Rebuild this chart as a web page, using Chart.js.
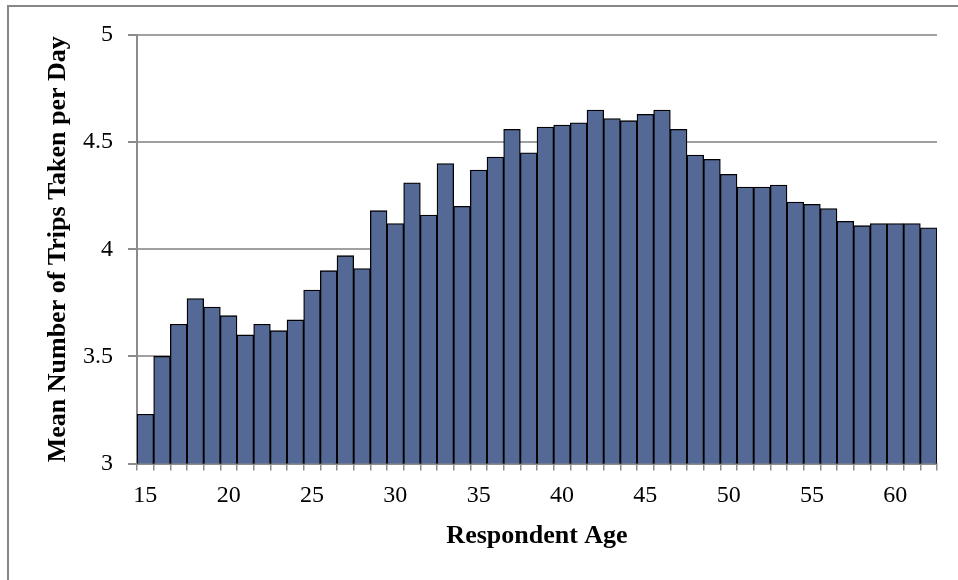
<!DOCTYPE html>
<html>
<head>
<meta charset="utf-8">
<script src="https://cdn.jsdelivr.net/npm/chart.js@4.4.1/dist/chart.umd.min.js"></script>
<style>
  html, body { margin: 0; padding: 0; background: #fff; }
  #wrap { width: 958px; height: 580px; }
</style>
</head>
<body>
<div id="wrap"><canvas id="chart" width="958" height="580"></canvas></div>
<script>
// Respondent ages (categories)
const ages = [15, 16, 17, 18, 19, 20, 21, 22, 23, 24, 25, 26, 27, 28, 29, 30,
  31, 32, 33, 34, 35, 36, 37, 38, 39, 40, 41, 42, 43, 44, 45, 46,
  47, 48, 49, 50, 51, 52, 53, 54, 55, 56, 57, 58, 59, 60, 61, 62];

// Mean number of trips per day
const meanTrips = [3.23, 3.50, 3.65, 3.77, 3.73, 3.69, 3.60, 3.65, 3.62, 3.67, 3.81, 3.90, 3.97, 3.91, 4.18, 4.12,
  4.31, 4.16, 4.40, 4.20, 4.37, 4.43, 4.56, 4.45, 4.57, 4.58, 4.59, 4.65, 4.61, 4.60, 4.63, 4.65,
  4.56, 4.44, 4.42, 4.35, 4.29, 4.29, 4.30, 4.22, 4.21, 4.19, 4.13, 4.11, 4.12, 4.12, 4.12, 4.10];

// Ages that carry a label on the x axis
const labelledAges = [15, 20, 25, 30, 35, 40, 45, 50, 55, 60];

const serif = '"Liberation Serif", "Times New Roman", serif';

// outer gray frame like the spreadsheet chart box
const framePlugin = {
  id: 'frame',
  beforeDraw(chart) {
    const ctx = chart.ctx;
    ctx.save();
    ctx.strokeStyle = '#878787';
    ctx.lineWidth = 2;
    ctx.strokeRect(8, 6, 1000, 1000);
    ctx.restore();
  }
};

new Chart(document.getElementById('chart').getContext('2d'), {
  type: 'bar',
  data: {
    labels: ages,
    datasets: [{
      data: meanTrips,
      backgroundColor: '#546995',
      borderColor: '#000',
      borderWidth: 1.3,
      categoryPercentage: 1,
      barPercentage: 1,
    }],
  },
  options: {
    responsive: false,
    animation: false,
    layout: { padding: { left: 0, top: 35, right: 21, bottom: 0 } },
    plugins: { legend: { display: false }, tooltip: { enabled: false } },
    scales: {
      x: {
        grid: { display: true, drawOnChartArea: false, drawTicks: true, tickLength: 7, color: '#8c8c8c', lineWidth: 1.5 },
        border: { display: true, color: '#8c8c8c', width: 2 },
        ticks: {
          autoSkip: false, maxRotation: 0, minRotation: 0, padding: 11,
          color: '#000', font: { family: serif, size: 24 },
          callback: function (v) {
            const age = this.getLabelForValue(v);
            return labelledAges.includes(Number(age)) ? String(age) : '';
          },
        },
        title: {
          display: true, text: 'Respondent Age', color: '#000',
          font: { family: serif, size: 26, weight: 'bold' },
          padding: { top: 0, bottom: 28 },
        },
        afterFit: s => { s.height = 580 - 463.5; },
      },
      y: {
        min: 3, max: 5,
        grid: { color: '#a0a0a0', lineWidth: 2, drawTicks: true, tickLength: 9, tickColor: '#8c8c8c' },
        border: { display: true, color: '#8c8c8c', width: 2 },
        ticks: {
          stepSize: 0.5, padding: 15, color: '#000',
          font: { family: serif, size: 24 },
          callback: v => String(v),
        },
        title: {
          display: true, text: 'Mean Number of Trips Taken per Day', color: '#000',
          font: { family: serif, size: 26, weight: 'bold' },
          padding: { top: 43, bottom: 0 },
        },
        afterFit: s => { s.width = 137; },
      },
    },
  },
  plugins: [framePlugin],
});
</script>
</body>
</html>
